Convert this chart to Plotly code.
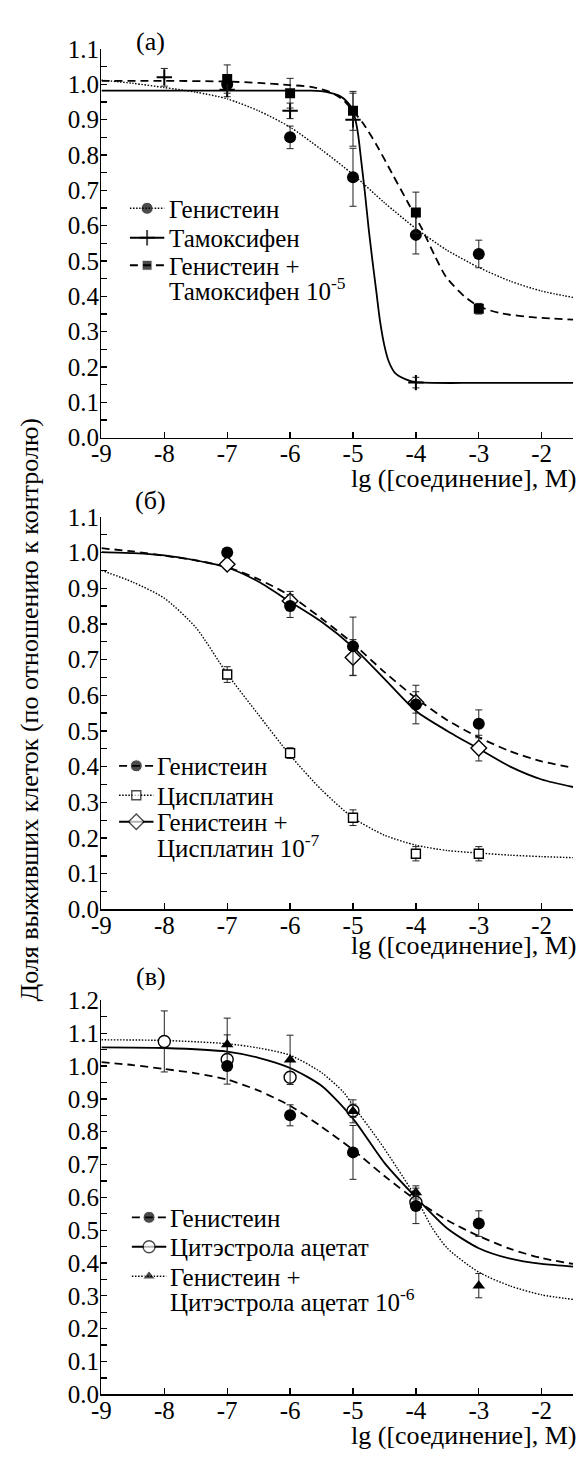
import plotly.graph_objects as go

W, H = 581, 1461
FONT = "Liberation Serif"

# ---------------- data ----------------
x_ticks = [-9, -8, -7, -6, -5, -4, -3, -2]
x_tick_labels = ["-9", "-8", "-7", "-6", "-5", "-4", "-3", "-2"]
y_ticks_11 = [0.0, 0.1, 0.2, 0.3, 0.4, 0.5, 0.6, 0.7, 0.8, 0.9, 1.0, 1.1]
y_ticks_12 = y_ticks_11 + [1.2]
y_minor_11 = [0.05, 0.15, 0.25, 0.35, 0.45, 0.55, 0.65, 0.75, 0.85, 0.95, 1.05]
y_minor_12 = y_minor_11 + [1.15]

# Genistein (same measurements in all panels)
gen_x = [-7, -6, -5, -4, -3]
gen_y = [1.0, 0.85, 0.737, 0.574, 0.52]
gen_err = [0.012, 0.032, 0.082, 0.054, 0.039]
gen_curve_x = [-9, -8.5, -8, -7.5, -7, -6.5, -6, -5.5, -5, -4.5, -4, -3.5, -3, -2.5, -2, -1.5]
gen_curve_y = [1.012, 1.003, 0.991, 0.978, 0.959, 0.925, 0.879, 0.815, 0.745, 0.665, 0.592, 0.53, 0.482, 0.443, 0.415, 0.397]

# Panel (а): Tamoxifen
tam_x = [-8, -7, -6, -5, -4]
tam_y = [1.02, 0.985, 0.925, 0.90, 0.156]
tam_err = [0.025, 0.02, 0.022, 0.075, 0.015]
tam_curve_x = [-9, -7, -6, -5.67, -5.41, -5.2, -5.1, -5.02, -4.97, -4.92, -4.87, -4.81, -4.75,
               -4.69, -4.63, -4.57, -4.5, -4.43, -4.33, -4.16, -4.0, -3.0, -1.5]
tam_curve_y = [0.982, 0.982, 0.982, 0.982, 0.978, 0.966, 0.952, 0.933, 0.906, 0.86, 0.785, 0.693, 0.59,
               0.50, 0.415, 0.33, 0.26, 0.215, 0.183, 0.165, 0.157, 0.155, 0.155]

# Panel (а): Genistein + Tamoxifen 1e-5
gt_x = [-7, -6, -5, -4, -3]
gt_y = [1.015, 0.975, 0.925, 0.637, 0.365]
gt_err = [0.04, 0.042, 0.055, 0.058, 0.015]
gt_curve_x = [-9, -8, -7, -6.5, -6, -5.67, -5.36, -5.15, -5.0, -4.84, -4.63, -4.37, -4.11, -3.9,
              -3.7, -3.52, -3.23, -3.0, -2.65, -2.08, -1.5]
gt_curve_y = [1.01, 1.01, 1.008, 1.004, 0.998, 0.993, 0.978, 0.955, 0.925, 0.89, 0.83, 0.745, 0.66, 0.59,
              0.515, 0.455, 0.4, 0.372, 0.352, 0.34, 0.334]

# Panel (б): Cisplatin
cis_x = [-7, -6, -5, -4, -3]
cis_y = [0.658, 0.438, 0.257, 0.156, 0.156]
cis_err = [0.022, 0.015, 0.022, 0.02, 0.02]
cis_curve_x = [-9, -8.5, -8, -7.5, -7, -6.5, -6, -5.5, -5, -4.5, -4, -3.5, -3, -2.5, -2, -1.5]
cis_curve_y = [0.95, 0.917, 0.872, 0.79, 0.66, 0.545, 0.432, 0.335, 0.257, 0.208, 0.18, 0.165, 0.158, 0.152, 0.148, 0.145]

# Panel (б): Genistein + Cisplatin 1e-7
gc_x = [-7, -6, -5, -4, -3]
gc_y = [0.967, 0.864, 0.706, 0.58, 0.452]
gc_err = [0.01, 0.027, 0.05, 0.03, 0.036]
gc_curve_x = [-9, -8.5, -8, -7.5, -7, -6.5, -6, -5.5, -5, -4.5, -4, -3.5, -3, -2.5, -2, -1.5]
gc_curve_y = [1.001, 0.998, 0.992, 0.978, 0.958, 0.918, 0.862, 0.806, 0.735, 0.646, 0.556, 0.50, 0.45, 0.40, 0.364, 0.343]

# Panel (в): Cytestrol acetate
cyt_x = [-8, -7, -6, -5, -4]
cyt_y = [1.075, 1.02, 0.966, 0.864, 0.585]
cyt_err = [0.093, 0.075, 0.015, 0.02, 0.02]
cyt_curve_x = [-9, -8, -7, -6.5, -6, -5.5, -5, -4.5, -4, -3.5, -3, -2.5, -2, -1.5]
cyt_curve_y = [1.057, 1.055, 1.044, 1.025, 0.994, 0.94, 0.84, 0.705, 0.60, 0.505, 0.445, 0.413, 0.397, 0.389]

# Panel (в): Genistein + Cytestrol acetate 1e-6
gcy_x = [-7, -6, -5, -4, -3]
gcy_y = [1.066, 1.019, 0.862, 0.615, 0.331]
gcy_err = [0.08, 0.075, 0.035, 0.02, 0.037]
gcy_curve_x = [-9, -8, -7, -6.5, -6, -5.5, -5.15, -5.0, -4.58, -4.3, -4.0, -3.75, -3.5, -3.0, -2.5, -2.0, -1.5]
gcy_curve_y = [1.08, 1.078, 1.068, 1.055, 1.033, 0.98, 0.92, 0.88, 0.77, 0.69, 0.60, 0.51, 0.445, 0.372, 0.33, 0.303, 0.289]

# legend texts (each entry: list of text lines)
leg_a = [["Генистеин"], ["Тамоксифен"], ["Генистеин +", "Тамоксифен 10<sup>-5</sup>"]]
leg_b = [["Генистеин"], ["Цисплатин"], ["Генистеин +", "Цисплатин 10<sup>-7</sup>"]]
leg_c = [["Генистеин"], ["Цитэстрола ацетат"], ["Генистеин +", "Цитэстрола ацетат 10<sup>-6</sup>"]]

# ---------------- styles ----------------
DOT = "1.5px,1.6px"
DASH = "8px,5px"
SOLID = "solid"

M_CIRCLE = dict(symbol="circle", size=12, color="black")
M_CROSS = dict(symbol="cross-thin", size=11, color="black", line=dict(color="black", width=2))
M_SQUARE = dict(symbol="square", size=10, color="black")
M_OSQUARE = dict(symbol="square", size=9, color="white", line=dict(color="black", width=1.4))
M_DIAMOND = dict(symbol="diamond", size=12, color="white", line=dict(color="black", width=1.4))
M_OCIRCLE = dict(symbol="circle", size=12, color="white", line=dict(color="black", width=1.4))
M_TRI = dict(symbol="triangle-up", size=11, color="black")

TXT = 25
LINE2 = 23.5  # spacing of the second text line in a legend entry
fig = go.Figure()


def px_x(p):
    return p / W


def px_y(p):
    return (H - p) / H


def axes_of(ax):
    return ("x" if ax == 1 else f"x{ax}"), ("y" if ax == 1 else f"y{ax}")


series = [
    # panel, curve x, curve y, pts x, pts y, err, dash, width, marker
    (1, gen_curve_x, gen_curve_y, gen_x, gen_y, gen_err, DOT, 1.4, M_CIRCLE),
    (1, tam_curve_x, tam_curve_y, tam_x, tam_y, tam_err, SOLID, 1.8, M_CROSS),
    (1, gt_curve_x, gt_curve_y, gt_x, gt_y, gt_err, DASH, 1.8, M_SQUARE),
    (2, gen_curve_x, gen_curve_y, gen_x, gen_y, gen_err, DASH, 1.8, M_CIRCLE),
    (2, cis_curve_x, cis_curve_y, cis_x, cis_y, cis_err, DOT, 1.4, M_OSQUARE),
    (2, gc_curve_x, gc_curve_y, gc_x, gc_y, gc_err, SOLID, 1.8, M_DIAMOND),
    (3, gen_curve_x, gen_curve_y, gen_x, gen_y, gen_err, DASH, 1.8, M_CIRCLE),
    (3, cyt_curve_x, cyt_curve_y, cyt_x, cyt_y, cyt_err, SOLID, 1.8, M_OCIRCLE),
    (3, gcy_curve_x, gcy_curve_y, gcy_x, gcy_y, gcy_err, DOT, 1.4, M_TRI),
]

# fitted curves first
for ax, cx, cy, px, py, pe, dash, lw, marker in series:
    xa, ya = axes_of(ax)
    fig.add_trace(go.Scatter(x=cx, y=cy, mode="lines", xaxis=xa, yaxis=ya,
                             line=dict(color="black", dash=dash, width=lw, shape="spline", smoothing=0.7),
                             showlegend=False, hoverinfo="skip"))

# then measured points (genistein drawn last in panels б and в)
marker_order = [0, 1, 2, 4, 5, 3, 7, 8, 6]
for k in marker_order:
    ax, cx, cy, px, py, pe, dash, lw, marker = series[k]
    xa, ya = axes_of(ax)
    fig.add_trace(go.Scatter(x=px, y=py, mode="markers", xaxis=xa, yaxis=ya, marker=marker,
                             error_y=dict(type="data", array=pe, color="#222", thickness=1, width=3.5),
                             showlegend=False))

# ---------------- legends (drawn on an invisible full-page pixel axis) ----------------
# per panel: symbol left px, symbol right px, text left px, row centre px list
legend_layout = [
    (122, 157, 160, [199, 229, 257]),
    (111, 146, 148, [767, 797, 824]),
    (124, 159, 161, [1227, 1257, 1287]),
]
legend_texts = [leg_a, leg_b, leg_c]
ann = []
for p, (sx0, sx1, tx, rows) in enumerate(legend_layout):
    for r, yc in enumerate(rows):
        _, _, _, _, _, _, dash, lw, marker = series[p * 3 + r]
        mk = dict(marker)
        mk["size"] = [0, marker["size"], 0]
        fig.add_trace(go.Scatter(x=[sx0, (sx0 + sx1) / 2, sx1], y=[yc, yc, yc], mode="lines+markers",
                                 xaxis="x4", yaxis="y4", line=dict(color="black", dash=dash, width=lw),
                                 marker=mk, showlegend=False, hoverinfo="skip"))
        for li, line in enumerate(legend_texts[p][r]):
            ann.append(dict(text=line, x=px_x(tx), y=px_y(yc + 1 + li * LINE2), xref="paper", yref="paper",
                            showarrow=False, xanchor="left", yanchor="middle", align="left",
                            font=dict(family=FONT, size=TXT, color="black")))

# ---------------- layout ----------------
X0, X1 = 93, 573
panels = [  # (top px, bottom px, y max)
    (36.7, 432.7, 1.1),
    (513.3, 913.3, 1.1),
    (1006.0, 1407.3, 1.2),
]

tickfont = dict(family=FONT, size=TXT, color="black")
layout = dict(width=W, height=H, margin=dict(l=0, r=0, t=0, b=0), autosize=False,
              paper_bgcolor="white", plot_bgcolor="rgba(0,0,0,0)",
              font=dict(family=FONT, color="black", size=TXT), showlegend=False)

for i, (top, bot, ymax) in enumerate(panels, start=1):
    s = "" if i == 1 else str(i)
    yt = y_ticks_11 if ymax < 1.15 else y_ticks_12
    ym = y_minor_11 if ymax < 1.15 else y_minor_12
    layout[f"xaxis{s}"] = dict(domain=[px_x(X0), px_x(X1)], range=[-9, -1.5], anchor=f"y{s}",
                               showline=True, linecolor="black", linewidth=1.5, ticks="inside",
                               ticklen=6, tickwidth=1.3, tickcolor="black", tickmode="array",
                               tickvals=x_ticks, ticktext=x_tick_labels, tickfont=tickfont,
                               ticklabelstandoff=-7,
                               showgrid=False, zeroline=False, fixedrange=True)
    layout[f"yaxis{s}"] = dict(domain=[px_y(bot), px_y(top)], range=[0, ymax], anchor=f"x{s}",
                               showline=True, linecolor="black", linewidth=1.5, ticks="inside",
                               ticklen=6, tickwidth=1.3, tickcolor="black", tickmode="array",
                               tickvals=yt, ticktext=[f"{v:.1f}" for v in yt], tickfont=tickfont,
                               ticklabelstandoff=-4,
                               minor=dict(tickmode="array", tickvals=ym, ticks="inside", ticklen=6,
                                          tickwidth=1.3, tickcolor="black", showgrid=False),
                               showgrid=False, zeroline=False, fixedrange=True)
layout["xaxis4"] = dict(domain=[0, 1], range=[0, W], anchor="y4", visible=False, fixedrange=True)
layout["yaxis4"] = dict(domain=[0, 1], range=[H, 0], anchor="x4", visible=False, fixedrange=True)

for lbl, yc in [("(а)", 29), ("(б)", 497), ("(в)", 982)]:
    ann.append(dict(text=lbl, x=px_x(143), y=px_y(yc), xref="paper", yref="paper", showarrow=False,
                    xanchor="center", yanchor="middle", font=dict(family=FONT, size=26, color="black")))
for yc in [474, 950, 1449]:
    ann.append(dict(text="lg ([соединение], M)", x=px_x(579), y=px_y(yc), xref="paper", yref="paper",
                    showarrow=False, xanchor="right", yanchor="middle",
                    font=dict(family=FONT, size=26, color="black")))
ann.append(dict(text="Доля выживших клеток (по отношению к контролю)", x=px_x(20), y=px_y(710),
                xref="paper", yref="paper", showarrow=False, textangle=-90, xanchor="center",
                yanchor="middle", font=dict(family=FONT, size=26, color="black")))
layout["annotations"] = ann

fig.update_layout(**layout)
fig.write_html("out.html", config={"displayModeBar": False, "staticPlot": True},
               post_script="document.body.style.margin='0';document.body.style.overflow='hidden';")
